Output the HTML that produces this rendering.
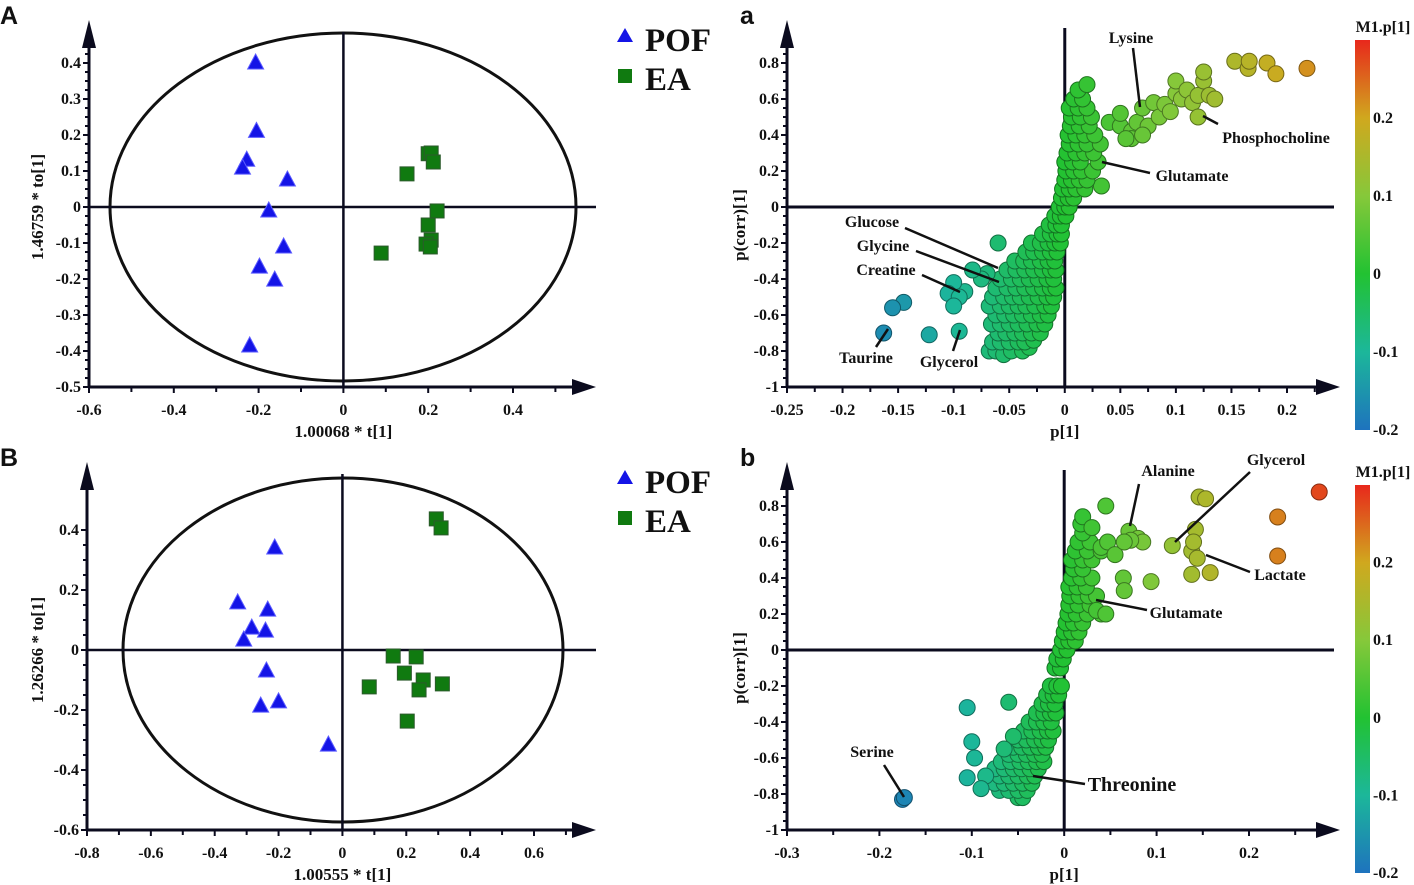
<!DOCTYPE html>
<html><head><meta charset="utf-8"><style>
html,body{margin:0;padding:0;background:#fff;overflow:hidden;}
svg{display:block;}
text{font-family:"Liberation Serif",serif;font-weight:bold;fill:#111;}
.pl{font-family:"Liberation Sans",sans-serif;font-size:25px;}
</style></head><body>
<svg id="fig" width="1414" height="885" viewBox="0 0 1414 885" xmlns="http://www.w3.org/2000/svg">
<defs>
<linearGradient id="cbar" x1="0" y1="1" x2="0" y2="0">
<stop offset="0" stop-color="#1e73be"/><stop offset="0.2" stop-color="#1cb79a"/><stop offset="0.4" stop-color="#22c232"/><stop offset="0.6" stop-color="#86c83a"/><stop offset="0.8" stop-color="#d0a81e"/><stop offset="1" stop-color="#e8281c"/>
</linearGradient>
</defs>
</svg>
<script>
// ---------- Panel A data ----------
const aPofT = [-0.207,-0.205,-0.228,-0.238,-0.132,-0.176,-0.141,-0.198,-0.162,-0.221];
const aPofTo = [0.40,0.21,0.13,0.108,0.075,-0.011,-0.111,-0.167,-0.203,-0.386];
const aEaT = [0.200,0.207,0.212,0.150,0.221,0.200,0.207,0.195,0.205,0.089];
const aEaTo = [0.148,0.15,0.125,0.092,-0.011,-0.05,-0.092,-0.103,-0.111,-0.128];
const aXTicks = [-0.6,-0.4,-0.2,0,0.2,0.4];
const aYTicks = [-0.5,-0.4,-0.3,-0.2,-0.1,0,0.1,0.2,0.3,0.4];
// ---------- Panel B data ----------
const bPofT = [-0.212,-0.328,-0.234,-0.284,-0.241,-0.309,-0.238,-0.2,-0.256,-0.044];
const bPofTo = [0.34,0.157,0.133,0.073,0.063,0.033,-0.07,-0.173,-0.187,-0.317];
const bEaT = [0.294,0.309,0.159,0.231,0.194,0.253,0.313,0.084,0.240,0.203];
const bEaTo = [0.437,0.407,-0.02,-0.023,-0.077,-0.1,-0.113,-0.123,-0.133,-0.237];
const bXTicks = [-0.8,-0.6,-0.4,-0.2,0,0.2,0.4,0.6];
const bYTicks = [-0.6,-0.4,-0.2,0,0.2,0.4];
// ---------- Panel a loadings (p[1], p(corr)[1]) ----------
const loadA = [
[-0.068,-0.80],[-0.062,-0.80],[-0.055,-0.82],[-0.048,-0.80],[-0.038,-0.80],[-0.032,-0.78],
[-0.065,-0.75],[-0.058,-0.75],[-0.05,-0.75],[-0.042,-0.75],[-0.036,-0.75],[-0.028,-0.74],
[-0.06,-0.70],[-0.053,-0.70],[-0.045,-0.70],[-0.038,-0.70],[-0.03,-0.70],[-0.022,-0.70],
[-0.066,-0.65],[-0.058,-0.65],[-0.05,-0.65],[-0.042,-0.65],[-0.034,-0.65],[-0.025,-0.65],[-0.018,-0.65],
[-0.062,-0.60],[-0.054,-0.60],[-0.046,-0.60],[-0.038,-0.60],[-0.03,-0.60],[-0.022,-0.60],[-0.015,-0.60],
[-0.068,-0.55],[-0.058,-0.55],[-0.05,-0.55],[-0.042,-0.55],[-0.035,-0.55],[-0.027,-0.55],[-0.018,-0.55],[-0.012,-0.55],
[-0.065,-0.50],[-0.055,-0.50],[-0.047,-0.50],[-0.04,-0.50],[-0.032,-0.50],[-0.024,-0.50],[-0.016,-0.50],[-0.01,-0.50],
[-0.062,-0.45],[-0.052,-0.45],[-0.044,-0.45],[-0.036,-0.45],[-0.028,-0.45],[-0.02,-0.45],[-0.013,-0.45],[-0.008,-0.45],
[-0.058,-0.40],[-0.048,-0.40],[-0.04,-0.40],[-0.032,-0.40],[-0.024,-0.40],[-0.016,-0.40],[-0.01,-0.40],
[-0.052,-0.35],[-0.044,-0.35],[-0.036,-0.35],[-0.028,-0.35],[-0.02,-0.35],[-0.013,-0.35],[-0.008,-0.35],
[-0.045,-0.30],[-0.037,-0.30],[-0.03,-0.30],[-0.022,-0.30],[-0.015,-0.30],[-0.009,-0.30],
[-0.035,-0.25],[-0.028,-0.25],[-0.02,-0.25],[-0.013,-0.25],[-0.007,-0.25],
[-0.03,-0.20],[-0.022,-0.20],[-0.015,-0.20],[-0.009,-0.20],[-0.004,-0.20],
[-0.02,-0.15],[-0.013,-0.15],[-0.007,-0.15],[-0.003,-0.15],
[-0.014,-0.10],[-0.008,-0.10],[-0.003,-0.10],
[-0.009,-0.05],[-0.004,-0.05],[0.001,-0.05],
[-0.005,0],[0,0],[0.004,0],
[-0.003,0.05],[0.003,0.05],[0.008,0.05],
[-0.002,0.10],[0.004,0.10],[0.01,0.10],[0.018,0.10],[0.033,0.117],
[0,0.15],[0.006,0.15],[0.013,0.15],[0.02,0.15],
[0.001,0.20],[0.008,0.20],[0.015,0.20],[0.025,0.20],
[0,0.25],[0.007,0.25],[0.014,0.25],[0.03,0.25],
[0.002,0.30],[0.01,0.30],[0.018,0.30],[0.026,0.30],
[0.004,0.35],[0.012,0.35],[0.02,0.35],[0.032,0.35],
[0.003,0.40],[0.01,0.40],[0.018,0.40],[0.027,0.40],
[0.005,0.45],[0.013,0.45],[0.022,0.45],
[0.006,0.50],[0.014,0.50],[0.024,0.50],
[0.004,0.55],[0.012,0.55],[0.02,0.55],
[0.008,0.60],[0.016,0.60],[0.012,0.65],[0.02,0.68],
[0.04,0.47],[0.05,0.45],[0.05,0.52],[0.06,0.42],[0.065,0.47],[0.07,0.55],[0.075,0.45],[0.08,0.58],[0.085,0.5],
[0.09,0.57],[0.095,0.53],[0.1,0.63],[0.1,0.7],[0.105,0.6],[0.11,0.65],[0.115,0.58],[0.12,0.62],[0.125,0.7],
[0.125,0.75],[0.13,0.62],[0.135,0.6],[0.06,0.38],[0.07,0.4],[0.055,0.38],[0.12,0.5],
[0.153,0.81],[0.165,0.77],[0.166,0.81],[0.182,0.8],[0.19,0.74],[0.218,0.77],
[-0.06,-0.2],[-0.07,-0.37],[-0.075,-0.4],[-0.083,-0.35],[-0.09,-0.47],[-0.1,-0.42],[-0.105,-0.48],
[-0.095,-0.5],[-0.1,-0.55],[-0.145,-0.53],[-0.155,-0.56],[-0.163,-0.7],[-0.122,-0.71],[-0.095,-0.69]
];
const loadAXTicks = [-0.25,-0.2,-0.15,-0.1,-0.05,0,0.05,0.1,0.15,0.2];
const loadAYTicks = [-1,-0.8,-0.6,-0.4,-0.2,0,0.2,0.4,0.6,0.8];
// ---------- Panel b loadings ----------
const loadB = [
[-0.05,-0.82],[-0.045,-0.82],
[-0.07,-0.78],[-0.06,-0.78],[-0.05,-0.78],[-0.04,-0.78],
[-0.075,-0.74],[-0.065,-0.74],[-0.055,-0.74],[-0.045,-0.74],[-0.035,-0.74],
[-0.07,-0.70],[-0.06,-0.70],[-0.05,-0.70],[-0.04,-0.70],[-0.032,-0.70],
[-0.075,-0.66],[-0.065,-0.66],[-0.055,-0.66],[-0.046,-0.66],[-0.037,-0.66],[-0.028,-0.66],
[-0.068,-0.62],[-0.058,-0.62],[-0.048,-0.62],[-0.039,-0.62],[-0.03,-0.62],[-0.022,-0.62],
[-0.06,-0.58],[-0.05,-0.58],[-0.041,-0.58],[-0.032,-0.58],[-0.024,-0.58],
[-0.055,-0.54],[-0.046,-0.54],[-0.037,-0.54],[-0.028,-0.54],[-0.02,-0.54],
[-0.05,-0.50],[-0.041,-0.50],[-0.032,-0.50],[-0.024,-0.50],[-0.017,-0.50],
[-0.044,-0.45],[-0.035,-0.45],[-0.026,-0.45],[-0.018,-0.45],[-0.012,-0.45],
[-0.038,-0.40],[-0.03,-0.40],[-0.022,-0.40],[-0.014,-0.40],
[-0.03,-0.35],[-0.022,-0.35],[-0.015,-0.35],[-0.009,-0.35],
[-0.024,-0.30],[-0.017,-0.30],[-0.01,-0.30],
[-0.019,-0.25],[-0.012,-0.25],[-0.006,-0.25],
[-0.015,-0.20],[-0.008,-0.20],[-0.003,-0.20],
[-0.01,-0.10],[-0.004,-0.10],[-0.008,-0.05],[-0.001,-0.05],
[-0.004,0],[0.003,0],
[-0.002,0.05],[0.005,0.05],[0.012,0.05],
[0,0.10],[0.008,0.10],[0.016,0.10],
[0.002,0.15],[0.01,0.15],[0.02,0.15],
[0.004,0.20],[0.013,0.20],[0.025,0.20],[0.04,0.2],
[0.005,0.25],[0.015,0.25],[0.028,0.25],
[0.006,0.30],[0.016,0.30],[0.026,0.30],[0.035,0.30],
[0.005,0.35],[0.014,0.35],[0.024,0.35],
[0.008,0.40],[0.018,0.40],[0.03,0.40],
[0.01,0.45],[0.02,0.45],
[0.008,0.50],[0.02,0.50],[0.03,0.50],
[0.012,0.55],[0.025,0.55],[0.04,0.55],
[0.015,0.60],[0.028,0.60],[0.02,0.65],
[0.035,0.22],[0.045,0.2],[0.064,0.4],[0.094,0.38],[0.065,0.33],
[0.04,0.57],[0.047,0.6],[0.055,0.53],[0.018,0.7],[0.02,0.74],[0.045,0.8],[0.03,0.68],
[0.07,0.66],[0.08,0.62],[0.085,0.6],[0.072,0.61],[0.065,0.6],
[0.146,0.85],[0.153,0.84],[0.142,0.67],[0.117,0.58],[0.138,0.55],[0.144,0.51],[0.138,0.42],[0.158,0.43],[0.14,0.6],
[0.276,0.878],[0.231,0.739],[0.231,0.522],
[-0.105,-0.32],[-0.1,-0.51],[-0.097,-0.6],[-0.105,-0.71],[-0.06,-0.29],[-0.055,-0.48],[-0.065,-0.55],
[-0.085,-0.7],[-0.09,-0.77],[-0.175,-0.83],[-0.173,-0.82]
];
const loadBXTicks = [-0.3,-0.2,-0.1,0,0.1,0.2];
const loadBYTicks = [-1,-0.8,-0.6,-0.4,-0.2,0,0.2,0.4,0.6,0.8];
const cbTicks = [-0.2,-0.1,0,0.1,0.2];

const NS='http://www.w3.org/2000/svg';
const svg=document.getElementById('fig');
function mk(tag,attrs,parent){const e=document.createElementNS(NS,tag);for(const k in attrs)e.setAttribute(k,attrs[k]);(parent||svg).appendChild(e);return e;}
function txt(s,x,y,size,anchor,parent){const t=mk('text',{x:x,y:y,'font-size':size,'text-anchor':anchor||'middle'},parent);t.textContent=s;return t;}
function fmt(v){if(v===0)return '0';return String(Math.round(v*100)/100);}
function lin(d0,d1,p0,p1){return v=>p0+(v-d0)*(p1-p0)/(d1-d0);}

function axes(g,X,Y,xl,xr,yb,yt,xt,yt2,xMinor,yMinor){
  const x0=X(xl),y0=Y(yb);
  let e=mk('line',{x1:x0,y1:y0,x2:x0,y2:yt+16,stroke:'#0b0b1e','stroke-width':3},g);
  
  e=mk('polygon',{points:`${x0-7},${yt+18} ${x0+7},${yt+18} ${x0},${yt-10}`,fill:'#0b0b1e'},g);
  
  e=mk('line',{x1:x0,y1:y0,x2:xr-14,y2:y0,stroke:'#0b0b1e','stroke-width':3},g);
  
  e=mk('polygon',{points:`${xr-16},${y0-8} ${xr-16},${y0+8} ${xr+8},${y0}`,fill:'#0b0b1e'},g);
  
  xt.forEach(v=>{const px=X(v);mk('line',{x1:px,y1:y0,x2:px,y2:y0+6,stroke:'#0b0b1e','stroke-width':2},g);
    const t=txt(fmt(v),px,y0+28,16,'middle',g);});
  xMinor.forEach(v=>{const px=X(v);mk('line',{x1:px,y1:y0,x2:px,y2:y0+5,stroke:'#0b0b1e','stroke-width':2},g);});
  yt2.forEach(v=>{const py=Y(v);mk('line',{x1:x0-6,y1:py,x2:x0,y2:py,stroke:'#0b0b1e','stroke-width':2},g);
    const t=txt(fmt(v),x0-8,py+5,16,'end',g);});
  yMinor.forEach(v=>{const py=Y(v);mk('line',{x1:x0-4,y1:py,x2:x0,y2:py,stroke:'#0b0b1e','stroke-width':2},g);});
}
function range(a,b,s){const r=[];for(let v=a;v<=b+1e-9;v+=s)r.push(Math.round(v*1000)/1000);return r;}

function scorePanel(name,X,Y,xl,xr,yb,yt,xT,yT,pofT,pofTo,eaT,eaTo,ell,xlab,ylab,letter,ly){
  const g=mk('g',{});
  const y0=Y(yb);
  let e=mk('ellipse',{cx:ell[0],cy:ell[1],rx:ell[2],ry:ell[3],fill:'none',stroke:'#111','stroke-width':3},g);
  
  e=mk('line',{x1:X(0),y1:y0,x2:X(0),y2:yt+2,stroke:'#0b0b1e','stroke-width':2.5},g);
  
  e=mk('line',{x1:X(xl),y1:Y(0),x2:xr+8,y2:Y(0),stroke:'#0b0b1e','stroke-width':2.5},g);
  
  axes(g,X,Y,xl,xr,yb,yt,xT,yT,range(xT[0]+0.1,xT[xT.length-1]+0.1,0.2),range(yb,yT[yT.length-1]+0.04,yT[1]-yT[0]>0.15?0.05:0.025));
  eaT.forEach((t,i)=>{const px=X(t),py=Y(eaTo[i]);const r=mk('rect',{x:px-7,y:py-7,width:14,height:14,fill:'#107a10',stroke:'#2b5a2b','stroke-width':1},g);
    });
  pofT.forEach((t,i)=>{const px=X(t),py=Y(pofTo[i]);const p=mk('polygon',{points:`${px},${py-9} ${px-8},${py+6} ${px+8},${py+6}`,fill:'#1414e6',stroke:'#5a5aff','stroke-width':1},g);
    });
  let t=txt(xlab,X(0),y0+50,17,'middle',g);
  t=txt(ylab,0,0,17,'middle',g);t.setAttribute('transform',`translate(43,${Y(0)}) rotate(-90)`);
  t=txt(letter,0,ly,25,'start',g);t.setAttribute('class','pl');
  const lg=mk('g',{},g);
  let m=mk('polygon',{points:`625,${ly+4} 617,${ly+18} 633,${ly+18}`,fill:'#1414e6'},lg);
  t=txt('POF',645,ly+27,33,'start',lg);
  m=mk('rect',{x:618,y:ly+45,width:14,height:14,fill:'#107a10'},lg);
  t=txt('EA',645,ly+66,33,'start',lg);
}

const cStops=[[-0.2,[30,115,190]],[-0.1,[28,183,154]],[0,[34,194,50]],[0.1,[134,200,58]],[0.2,[208,168,30]],[0.3,[232,40,28]]];
function colorOf(v){v=Math.max(-0.2,Math.min(0.3,v));for(let i=0;i<cStops.length-1;i++){const[a,ca]=cStops[i],[b,cb]=cStops[i+1];if(v<=b){const f=(v-a)/(b-a);const c=ca.map((x,k)=>Math.round(x+(cb[k]-x)*f));return `rgb(${c})`;}}return 'rgb(232,40,28)';}
function darker(v){const m=colorOf(v).match(/\d+/g).map(Number).map(x=>Math.round(x*0.6));return `rgb(${m})`;}

function loadPanel(name,X,Y,xl,xr,yb,yt,xT,yT,pts,labels,letter,ly,cbTop,cbBot){
  const g=mk('g',{});
  const y0=Y(yb);
  let e=mk('line',{x1:X(0),y1:y0,x2:X(0),y2:yt-2,stroke:'#0b0b1e','stroke-width':3},g);
  
  e=mk('line',{x1:X(xl),y1:Y(0),x2:xr+2,y2:Y(0),stroke:'#0b0b1e','stroke-width':3},g);
  
  const step=xT[1]-xT[0];
  axes(g,X,Y,xl,xr,yb,yt,xT,yT,range(xT[0]+step/2,xT[xT.length-1]+step/2,step),range(yb,0.9,0.05));
  pts.forEach(p=>{const c=mk('circle',{cx:X(p[0]),cy:Y(p[1]),r:8,fill:colorOf(p[0]),stroke:darker(p[0]),'stroke-width':1},g);
    });
  labels.forEach(L=>{const l=mk('line',{x1:L[1],y1:L[2],x2:L[3],y2:L[4],stroke:'#111','stroke-width':2.5},g);
    
    const t=txt(L[0],L[5],L[6],L[7]||16,'middle',g);});
  let t=txt('p[1]',X(0),y0+50,17,'middle',g);
  t=txt('p(corr)[1]',0,0,17,'middle',g);t.setAttribute('transform',`translate(745,${Y(-0.1)}) rotate(-90)`);
  t=txt(letter,740,ly,25,'start',g);t.setAttribute('class','pl');
  const cb=mk('g',{},g);
  const CY=lin(-0.2,0.3,cbBot,cbTop);
  const r=mk('rect',{x:1355,y:cbTop,width:15,height:cbBot-cbTop,fill:'url(#cbar)'},cb);
  cbTicks.forEach(v=>{const tt=txt(fmt(v),1373,CY(v)+5,16,'start',cb);});
  t=txt('M1.p[1]',1383,cbTop-8,16,'middle',cb);
}

{const X=lin(-0.6,0.4,89,513),Y=lin(-0.5,0.4,387,63);
scorePanel('score-plot-A',X,Y,-0.6,588,-0.5,30,aXTicks,aYTicks,aPofT,aPofTo,aEaT,aEaTo,[343,207,233,174],'1.00068 * t[1]','1.46759 * to[1]','A',24);}
{const X=lin(-0.8,0.6,87,534),Y=lin(-0.6,0.4,830,530);
scorePanel('score-plot-B',X,Y,-0.8,588,-0.6,472,bXTicks,bYTicks,bPofT,bPofTo,bEaT,bEaTo,[343,650,220,172],'1.00555 * t[1]','1.26266 * to[1]','B',466);}
{const X=lin(-0.25,0.2,787,1287),Y=lin(-1,0.8,387,63);
loadPanel('loading-plot-a',X,Y,-0.25,1332,-1,30,loadAXTicks,loadAYTicks,loadA,[
 ['Lysine',1133,48,1140,107,1131,43],
 ['Phosphocholine',1203,116,1218,124,1276,143],
 ['Glutamate',1150,173,1102,162,1192,181],
 ['Glucose',905,228,998,268,872,227],
 ['Glycine',916,251,999,282,883,251],
 ['Creatine',922,275,960,292,886,275],
 ['Taurine',876,347,888,329,866,363],
 ['Glycerol',953,351,960,330,949,367]
],'a',24,40,430);}
{const X=lin(-0.3,0.2,787,1249),Y=lin(-1,0.8,830,506);
loadPanel('loading-plot-b',X,Y,-0.3,1332,-1,472,loadBXTicks,loadBYTicks,loadB,[
 ['Alanine',1139,484,1130,526,1168,476],
 ['Glycerol',1250,472,1175,542,1276,465],
 ['Lactate',1250,572,1206,555,1280,580],
 ['Glutamate',1147,610,1096,600,1186,618],
 ['Threonine',1085,784,1033,776,1132,791,20],
 ['Serine',884,765,904,797,872,757]
],'b',466,485,873);}
</script>
</body></html>
